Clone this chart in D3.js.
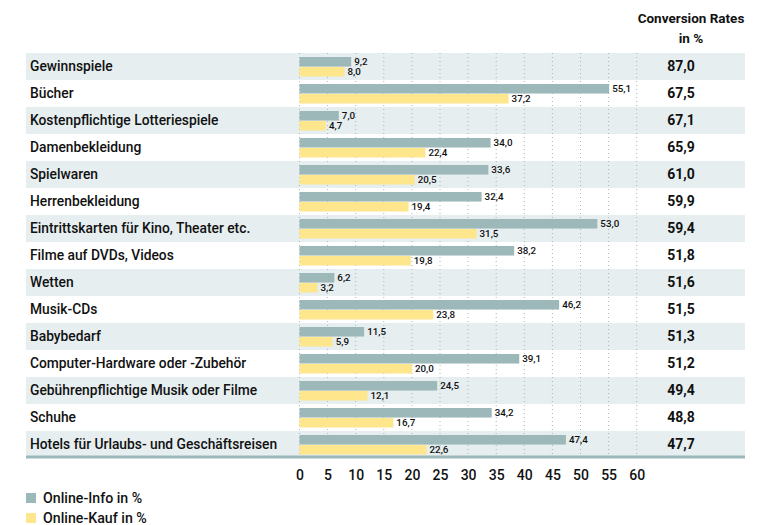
<!DOCTYPE html>
<html>
<head>
<meta charset="utf-8">
<script src="https://cdn.jsdelivr.net/npm/d3@7"></script>
<style>
  body { margin: 0; background: #fff; }
  .chart { width: 767px; height: 525px; }
  text { font-family: Roboto, "DejaVu Sans", sans-serif; fill: #111; }
</style>
</head>
<body>
<div class="chart"></div>
<script>
const categories = [
  'Gewinnspiele', 'Bücher', 'Kostenpflichtige Lotteriespiele', 'Damenbekleidung',
  'Spielwaren', 'Herrenbekleidung', 'Eintrittskarten für Kino, Theater etc.',
  'Filme auf DVDs, Videos', 'Wetten', 'Musik-CDs', 'Babybedarf',
  'Computer-Hardware oder -Zubehör', 'Gebührenpflichtige Musik oder Filme',
  'Schuhe', 'Hotels für Urlaubs- und Geschäftsreisen'
];
const onlineInfo = [9.2, 55.1, 7.0, 34.0, 33.6, 32.4, 53.0, 38.2, 6.2, 46.2, 11.5, 39.1, 24.5, 34.2, 47.4];
const onlineKauf = [8.0, 37.2, 4.7, 22.4, 20.5, 19.4, 31.5, 19.8, 3.2, 23.8, 5.9, 20.0, 12.1, 16.7, 22.6];
const conversionRates = [87.0, 67.5, 67.1, 65.9, 61.0, 59.9, 59.4, 51.8, 51.6, 51.5, 51.3, 51.2, 49.4, 48.8, 47.7];
const tickValues = [0, 5, 10, 15, 20, 25, 30, 35, 40, 45, 50, 55, 60];
const seriesNames = ['Online-Info in %', 'Online-Kauf in %'];

function visualize() {
  const svg = d3.select('.chart')
    .append('svg')
    .attr('width', 767)
    .attr('height', 525);

  const colors = { info: '#9db8b9', kauf: '#fee68c', band: '#e6eef0', grid: '#9fb9ba' };
  const fmt = v => v.toFixed(1).replace('.', ',');

  const data = categories.map((c, i) => ({
    name: c, info: onlineInfo[i], kauf: onlineKauf[i], rate: conversionRates[i], idx: i
  }));

  const yScale = d3.scaleBand()
    .domain(categories)
    .range([53, 458]);

  const inner = d3.scaleBand()
    .domain(['info', 'kauf'])
    .range([4, 23.5])
    .paddingInner(0.04);

  const xScale = d3.scaleLinear()
    .domain([0, 60])
    .range([299.5, 636.7]);

  // row bands
  svg.selectAll('.band')
    .data(data)
    .enter()
    .append('rect')
    .attr('x', 26)
    .attr('y', d => yScale(d.name))
    .attr('width', 719)
    .attr('height', yScale.bandwidth())
    .style('fill', d => d.idx % 2 === 0 ? colors.band : '#fff');

  // dotted grid
  svg.selectAll('.grid')
    .data(tickValues)
    .enter()
    .append('line')
    .attr('x1', d => xScale(d))
    .attr('x2', d => xScale(d))
    .attr('y1', 53)
    .attr('y2', 456)
    .style('stroke', colors.grid)
    .style('stroke-width', 1)
    .style('stroke-dasharray', '1,3');

  const rows = svg.selectAll('.row')
    .data(data)
    .enter()
    .append('g')
    .attr('transform', d => `translate(0, ${yScale(d.name)})`);

  rows.append('text')
    .attr('x', 30)
    .attr('y', yScale.bandwidth() / 2)
    .attr('dy', '0.35em')
    .style('font-size', '13.8px')
    .style('font-weight', 500)
    .text(d => d.name);

  ['info', 'kauf'].forEach(key => {
    rows.append('rect')
      .attr('x', xScale(0))
      .attr('y', inner(key))
      .attr('width', d => xScale(d[key]) - xScale(0))
      .attr('height', inner.bandwidth())
      .style('fill', colors[key]);

    rows.append('text')
      .attr('x', d => xScale(d[key]) + 3)
      .attr('y', inner(key) + inner.bandwidth() / 2)
      .attr('dy', '0.3em')
      .style('font-size', '9.8px')
      .style('font-weight', 500)
      .text(d => fmt(d[key]));
  });

  rows.append('text')
    .attr('x', 681)
    .attr('y', yScale.bandwidth() / 2)
    .attr('dy', '0.35em')
    .attr('text-anchor', 'middle')
    .style('font-size', '14px')
    .style('font-weight', 700)
    .text(d => fmt(d.rate));

  // bottom rule
  svg.append('line')
    .attr('x1', 26)
    .attr('x2', 745)
    .attr('y1', 457)
    .attr('y2', 457)
    .style('stroke', colors.info)
    .style('stroke-width', 3);

  // header
  const header = svg.append('text')
    .attr('text-anchor', 'middle')
    .style('font-size', '13.5px')
    .style('font-weight', 700);
  header.append('tspan').attr('x', 691).attr('y', 23).text('Conversion Rates');
  header.append('tspan').attr('x', 691).attr('y', 43).text('in %');

  // x axis
  const xAxis = d3.axisBottom(xScale)
    .tickValues(tickValues)
    .tickSize(0)
    .tickPadding(0)
    .tickFormat(d => d);

  const axisG = svg.append('g')
    .attr('transform', 'translate(0, 470)')
    .call(xAxis);
  axisG.select('.domain').remove();
  axisG.selectAll('text')
    .style('font-family', 'Roboto, sans-serif')
    .style('font-size', '14px')
    .style('font-weight', 500)
    .style('fill', '#111');

  // legend
  const legend = svg.selectAll('.legend')
    .data(seriesNames)
    .enter()
    .append('g')
    .attr('transform', (d, i) => `translate(26, ${493 + i * 20})`);

  legend.append('rect')
    .attr('width', 10)
    .attr('height', 10)
    .style('fill', (d, i) => i === 0 ? colors.info : colors.kauf);

  legend.append('text')
    .attr('x', 17)
    .attr('y', 5)
    .attr('dy', '0.35em')
    .style('font-size', '14.2px')
    .style('font-weight', 500)
    .text(d => d);
}

visualize();
</script>
</body>
</html>
